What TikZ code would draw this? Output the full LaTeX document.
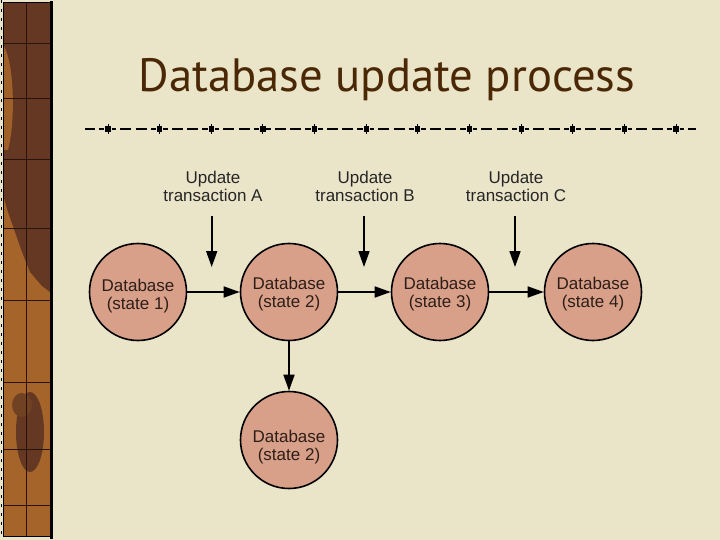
\documentclass[tikz,border=0pt]{standalone}
\usepackage{fontspec}
\setmainfont{Liberation Sans}
\newfontfamily\titlefont{PT Sans}
\usetikzlibrary{arrows.meta}
\definecolor{bg}{RGB}{234,228,200}
\definecolor{dbfill}{RGB}{217,160,137}
\definecolor{dbtext}{RGB}{45,30,25}
\definecolor{titlecol}{RGB}{75,40,5}
\definecolor{stripA}{RGB}{165,100,42}
\definecolor{stripB}{RGB}{100,56,34}
\definecolor{stripline}{RGB}{40,18,10}
\newcommand\dbtxt[2]{\raisebox{-#1}[\dimexpr\height+#1\relax][\dimexpr\depth+#1\relax]{\begin{tabular}{@{}c@{}}#2\end{tabular}}}
\tikzset{
  dbnode/.style={circle, draw=black, line width=1.6pt, fill=dbfill, minimum size=97pt,
    inner sep=0pt, align=center, text=dbtext, font=\fontsize{17}{18}\selectfont},
  updlabel/.style={align=center, text=black!85, font=\fontsize{17}{18}\selectfont, inner sep=0pt},
  arr/.style={line width=1.7pt, -{Triangle[width=11pt,length=16pt]}},
  rule/.style={line width=1.3pt, dash pattern=on 4.5pt off 4pt on 11pt off 4.5pt on 11pt off 4pt on 5.5pt off 7.14pt, dash phase=25.14pt},
  gridline/.style={stripline, line width=0.9pt}
}
\begin{document}
\begin{tikzpicture}[x=1pt,y=-1pt]
\useasboundingbox (0,0) rectangle (720,540);
\fill[bg] (0,0) rectangle (720,540);
% left decorative strip
\fill[stripA] (3,3) rectangle (50,536);
\fill[stripB] (3,3) -- (50,3) -- (50,292) -- (42,286) -- (30,272) -- (22,252) -- (15,232) -- (8,212) -- (3,195) -- cycle;
\fill[stripA!90!stripB] (3,45) .. controls (14,60) and (16,120) .. (8,150) -- (3,150) -- cycle;
\fill[stripB] (30,432) ellipse (14 and 40);
\fill[stripB!80!stripA] (22,405) ellipse (10 and 12);
\draw[gridline] (26,3) -- (26,536);
\foreach \yy in {43,98,159,228,300,382,449,505}
  \draw[gridline] (3,\yy) -- (50,\yy);
\draw[black, line width=1pt] (3,3) rectangle (50,536);
\draw[black, line width=3pt] (51.5,1) -- (51.5,539);
\draw[black, line width=1.5pt, dash pattern=on 3pt off 6pt] (1.5,0) -- (1.5,540);
% title
\node[anchor=base, text=titlecol, font=\titlefont\fontsize{46.7}{50}\selectfont, inner sep=0pt] (title) at (387,92) {Database update process};
% rule line
\draw[rule] (85,129) -- (696,129);
\foreach \i in {0,...,11} {
  \pgfmathsetmacro\cx{108+51.64*\i}
  \draw[line width=0.9pt] (\cx,124.3) -- (\cx,134.3);
  \fill (\cx-2.6,126.4) rectangle (\cx+2.6,131.8);
}
% circles
\node[dbnode] (c1) at (138,292) {\dbtxt{5pt}{Database\\(state 1)}};
\node[dbnode] (c2) at (289,292) {\dbtxt{2.5pt}{Database\\(state 2)}};
\node[dbnode] (c3) at (440,292) {\dbtxt{2.5pt}{Database\\(state 3)}};
\node[dbnode] (c4) at (593,292) {\dbtxt{2.5pt}{Database\\(state 4)}};
\node[dbnode] (c5) at (289,440) {\dbtxt{8pt}{Database\\(state 2)}};
% labels
\node[updlabel] (la) at (213,186) {Update\\transaction A};
\node[updlabel] (lb) at (365,186) {Update\\transaction B};
\node[updlabel] (lc) at (516,186) {Update\\transaction C};
% arrow endpoints
\coordinate (a1) at (211.7,216);
\coordinate (a2) at (211.7,267);
\coordinate (b1) at (364,216);
\coordinate (b2) at (364,267);
\coordinate (d1) at (515,216);
\coordinate (d2) at (515,267);
\draw[arr] (a1) -- (a2);
\draw[arr] (b1) -- (b2);
\draw[arr] (d1) -- (d2);
\draw[arr] (c1) -- (c2);
\draw[arr] (c2) -- (c3);
\draw[arr] (c3) -- (c4);
\draw[arr] (c2) -- (c5);
\end{tikzpicture}
\end{document}
